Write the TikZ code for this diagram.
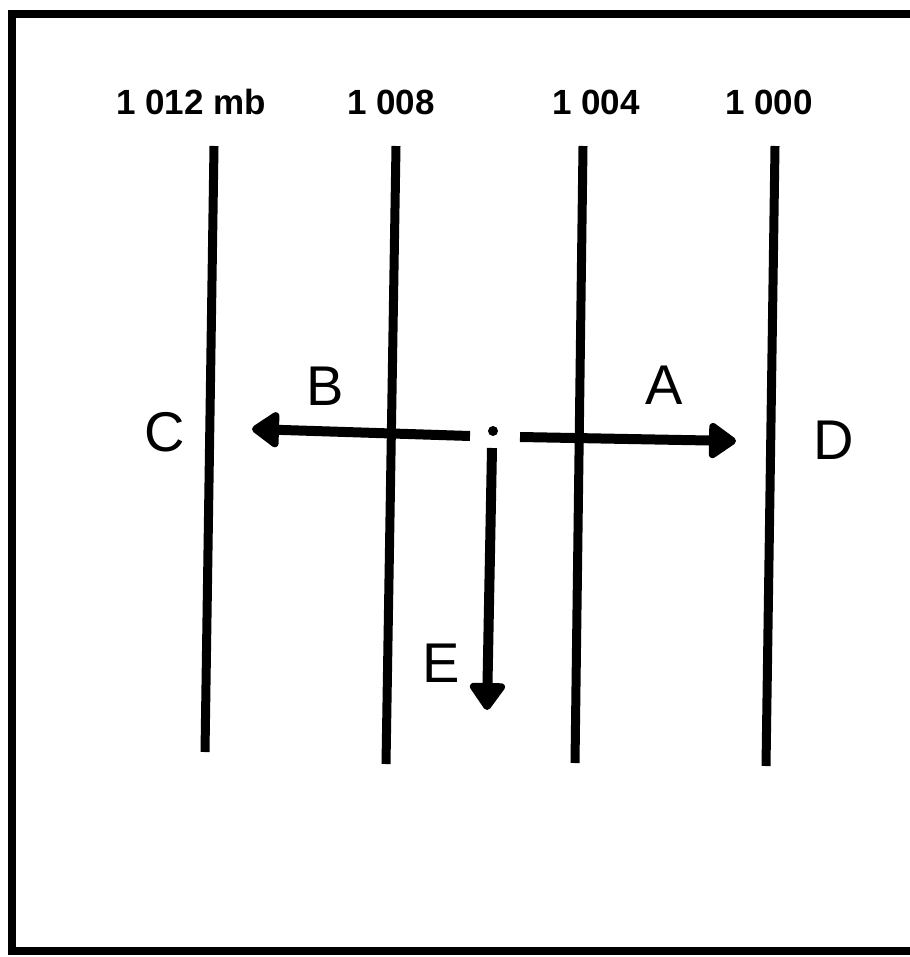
\documentclass[tikz,border=0pt]{standalone}
\usepackage{fontspec}
\setmainfont{Liberation Sans}
\usetikzlibrary{arrows.meta}
\begin{document}
\begin{tikzpicture}[x=1pt,y=-1pt,
  frame/.style={line width=8pt,line cap=rect},
  isobar/.style={line width=9pt},
  flow/.style={line width=10pt,-{Triangle[length=30pt,width=40pt,round]}},
  value/.style={font=\bfseries\fontsize{35}{40}\selectfont,inner sep=0pt},
  letter/.style={font=\fontsize{56}{60}\selectfont,inner sep=0pt}]
  \useasboundingbox (0,0) rectangle (909,957);
  % open frame: top, left and bottom sides
  \draw[frame] (912,14) -- (12,14) -- (12,951) -- (912,951);
  % isobars
  \coordinate (i1t) at (214,146); \coordinate (i1b) at (205,752);
  \coordinate (i2t) at (396,146); \coordinate (i2b) at (386,764);
  \coordinate (i3t) at (583,146); \coordinate (i3b) at (575,763);
  \coordinate (i4t) at (775,146); \coordinate (i4b) at (766,766);
  \draw[isobar] (i1t) -- (i1b);
  \draw[isobar] (i2t) -- (i2b);
  \draw[isobar] (i3t) -- (i3b);
  \draw[isobar] (i4t) -- (i4b);
  % pressure values
  \node[value] (v1) at (191,102) {1 012 mb};
  \node[value] (v2) at (391,102) {1 008};
  \node[value] (v3) at (596,102) {1 004};
  \node[value] (v4) at (769,102) {1 000};
  % letters
  \node[letter] (C) at (165,432) {C};
  \node[letter] (B) at (325,386) {B};
  \node[letter] (A) at (664,385) {A};
  \node[letter] (D) at (834,440) {D};
  \node[letter] (E) at (441,663) {E};
  % air parcel and the forces acting on it
  \node[circle,fill,inner sep=0pt,minimum size=10pt] (p) at (493,431) {};
  \coordinate (bs) at (470,436); \coordinate (bt) at (252,429);
  \coordinate (as) at (520,437); \coordinate (at) at (736,441);
  \coordinate (es) at (492,448); \coordinate (et) at (487,710);
  \draw[flow] (bs) -- (bt);
  \draw[flow] (as) -- (at);
  \draw[flow] (es) -- (et);
\end{tikzpicture}
\end{document}
